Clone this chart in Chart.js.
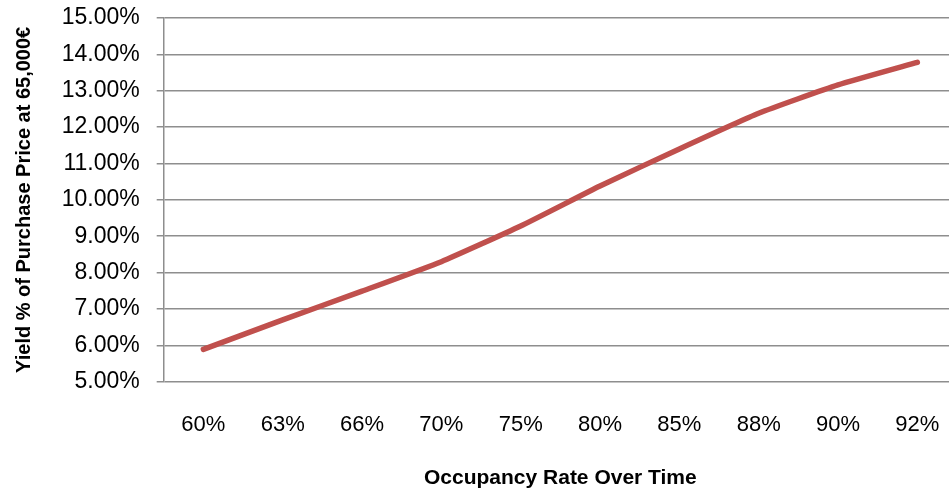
<!DOCTYPE html>
<html>
<head>
<meta charset="utf-8">
<script src="https://cdn.jsdelivr.net/npm/chart.js@4/dist/chart.umd.min.js"></script>
<style>
  html, body { margin: 0; padding: 0; background: #fff; overflow: hidden; width: 949px; height: 491px; }
  #wrap { position: absolute; left: 0; top: 0; width: 980px; height: 491px; }
</style>
</head>
<body>
<div id="wrap"><canvas id="c" width="980" height="491"></canvas></div>
<script>
const categories = ["60%", "63%", "66%", "70%", "75%", "80%", "85%", "88%", "90%", "92%"];
const yieldValues = [5.89, 6.70, 7.49, 8.30, 9.28, 10.38, 11.40, 12.38, 13.16, 13.78];
const yMin = 5, yMax = 15, yStep = 1;
const xTitle = "Occupancy Rate Over Time";
const yTitle = "Yield % of Purchase Price at 65,000€";

const FONT = "'Liberation Sans', Arial, sans-serif";
const GRID = '#8e8e8e';

new Chart(document.getElementById('c'), {
  type: 'line',
  data: {
    labels: categories,
    datasets: [{
      data: yieldValues,
      borderColor: '#C0504D',
      borderWidth: 5.5,
      pointRadius: 0,
      tension: 0.15,
      fill: false,
      borderCapStyle: 'round',
      borderJoinStyle: 'round'
    }]
  },
  options: {
    responsive: false,
    animation: false,
    layout: { padding: { left: 0, right: 23, top: 18, bottom: 0 } },
    plugins: { legend: { display: false }, tooltip: { enabled: false } },
    scales: {
      x: {
        offset: true,
        grid: { display: false, drawTicks: false },
        border: { display: false },
        ticks: { color: '#000', font: { family: FONT, size: 22 }, padding: 30, maxRotation: 0, autoSkip: false },
        title: { display: true, text: xTitle, color: '#000', font: { family: FONT, size: 21, weight: 'bold' }, padding: { top: 14, bottom: 0 } },
        afterFit: s => { s.height = 109.3; s.paddingLeft = 0; s.paddingRight = 0; }
      },
      y: {
        min: yMin, max: yMax,
        grid: { color: GRID, lineWidth: 1.5, tickLength: 7, drawTicks: true, tickColor: GRID },
        border: { display: true, color: GRID, width: 1.5 },
        ticks: { stepSize: yStep, color: '#000', font: { family: FONT, size: 23 }, padding: 17,
                 callback: v => v.toFixed(2) + '%' },
        title: { display: true, text: yTitle, color: '#000', font: { family: FONT, size: 20, weight: 'bold' }, padding: { top: 12, bottom: 6 } },
        afterFit: s => { s.width = 163.7; s.paddingTop = 0; s.paddingBottom = 0; }
      }
    }
  }
});
</script>
</body>
</html>
